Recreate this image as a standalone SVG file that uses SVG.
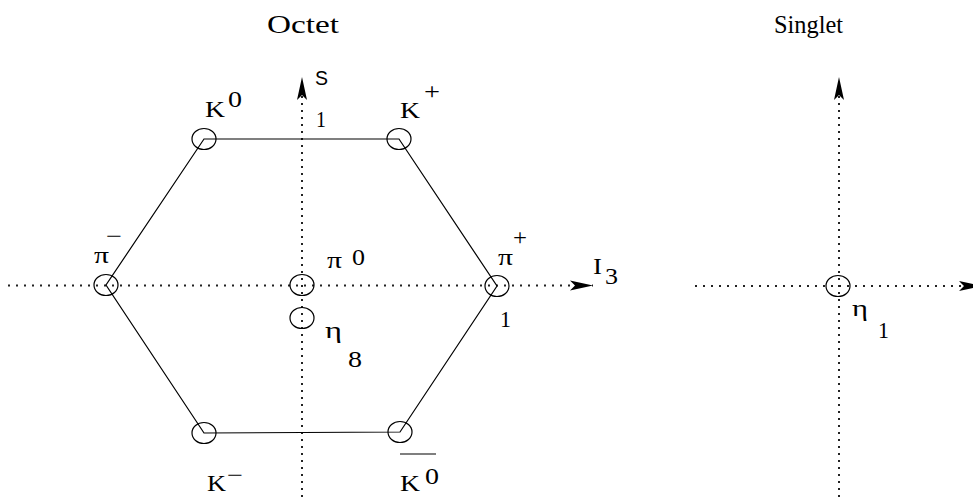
<svg xmlns="http://www.w3.org/2000/svg" width="973" height="497" viewBox="0 0 973 497">
<defs>
<style>
.ax{fill:none;stroke:#222;stroke-width:2;stroke-dasharray:2 6}
.axv{fill:none;stroke:#222;stroke-width:2;stroke-dasharray:2 5}
.edge{fill:none;stroke:#000;stroke-width:1.2}
.node{fill:none;stroke:#000;stroke-width:1.2}
.t{font-family:"Liberation Serif","Times New Roman",serif;font-size:24px;fill:#000}
.s{font-family:"Liberation Sans",Arial,sans-serif;font-size:21px;fill:#000}
.ttl{font-family:"Liberation Serif","Times New Roman",serif;font-size:25px;fill:#000}
</style>
<marker id="ah" markerUnits="userSpaceOnUse" markerWidth="30" markerHeight="14" refX="0" refY="0" orient="auto" overflow="visible" viewBox="-25 -7 30 14">
<path d="M0,0 L-23,-5 L-18,0 L-23,5 Z" fill="#000"/>
</marker>
</defs>
<rect width="973" height="497" fill="#fff"/>
<g id="titles">
<text class="ttl" x="267" y="33" textLength="72" lengthAdjust="spacingAndGlyphs">Octet</text>
<text class="ttl" x="774" y="33" textLength="69" lengthAdjust="spacingAndGlyphs">Singlet</text>
</g>
<g id="axes">
<line class="axv" x1="302" y1="497" x2="302" y2="77" marker-end="url(#ah)"/>
<line class="ax" x1="8" y1="285.5" x2="593" y2="285.5" marker-end="url(#ah)"/>
<line class="axv" x1="839" y1="497" x2="839" y2="77" marker-end="url(#ah)"/>
<line class="ax" x1="695" y1="286" x2="982" y2="286" marker-end="url(#ah)"/>
<text class="s" x="315" y="85" textLength="13" lengthAdjust="spacingAndGlyphs">S</text>
<text class="t" x="316" y="127" textLength="10" lengthAdjust="spacingAndGlyphs">1</text>
<text class="t" x="593" y="274" font-size="19" textLength="9" lengthAdjust="spacingAndGlyphs">I</text>
<text class="t" x="605" y="284" textLength="13" lengthAdjust="spacingAndGlyphs">3</text>
<text class="t" x="500" y="327" textLength="11" lengthAdjust="spacingAndGlyphs">1</text>
</g>
<g id="connectors">
<polygon class="edge" points="204,139 399,139 497,286 400,432 204,433 106,285"/>
</g>
<g id="K0">
<ellipse class="node" cx="204" cy="139" rx="12" ry="10.5"/>
<text class="t" x="205" y="117" textLength="20" lengthAdjust="spacingAndGlyphs">K</text>
<text class="t" x="228" y="107" textLength="14" lengthAdjust="spacingAndGlyphs">0</text>
</g>
<g id="Kplus">
<ellipse class="node" cx="399" cy="139" rx="12" ry="10.5"/>
<text class="t" x="400" y="118" textLength="20" lengthAdjust="spacingAndGlyphs">K</text>
<text class="t" x="424" y="99" textLength="16" lengthAdjust="spacingAndGlyphs">+</text>
</g>
<g id="piplus">
<ellipse class="node" cx="497" cy="286" rx="12" ry="10.5"/>
<text class="t" x="498" y="265" textLength="15" lengthAdjust="spacingAndGlyphs">π</text>
<text class="t" x="513" y="245" textLength="14" lengthAdjust="spacingAndGlyphs">+</text>
</g>
<g id="piminus">
<ellipse class="node" cx="106" cy="285" rx="12" ry="10.5"/>
<text class="t" x="94" y="263" textLength="15" lengthAdjust="spacingAndGlyphs">π</text>
<text class="t" x="106" y="244" textLength="16" lengthAdjust="spacingAndGlyphs">−</text>
</g>
<g id="pi0">
<ellipse class="node" cx="302" cy="285" rx="12" ry="10.5"/>
<text class="t" x="327" y="268" textLength="15" lengthAdjust="spacingAndGlyphs">π</text>
<text class="t" x="352" y="265" textLength="13" lengthAdjust="spacingAndGlyphs">0</text>
</g>
<g id="eta8">
<ellipse class="node" cx="302" cy="318" rx="12" ry="10.5"/>
<text class="t" x="325" y="338" textLength="17" lengthAdjust="spacingAndGlyphs">η</text>
<text class="t" x="348" y="367" textLength="14" lengthAdjust="spacingAndGlyphs">8</text>
</g>
<g id="Kminus">
<ellipse class="node" cx="204" cy="433" rx="12" ry="10.5"/>
<text class="t" x="207" y="491" textLength="19" lengthAdjust="spacingAndGlyphs">K</text>
<text class="t" x="227" y="483" textLength="16" lengthAdjust="spacingAndGlyphs">−</text>
</g>
<g id="K0bar">
<ellipse class="node" cx="400" cy="432" rx="12" ry="10.5"/>
<line class="edge" x1="400" y1="454" x2="436" y2="454"/>
<text class="t" x="400" y="491" textLength="20" lengthAdjust="spacingAndGlyphs">K</text>
<text class="t" x="425" y="484" textLength="14" lengthAdjust="spacingAndGlyphs">0</text>
</g>
<g id="eta1">
<ellipse class="node" cx="838" cy="286" rx="12" ry="10.5"/>
<text class="t" x="852" y="316" textLength="16" lengthAdjust="spacingAndGlyphs">η</text>
<text class="t" x="878" y="338" textLength="11" lengthAdjust="spacingAndGlyphs">1</text>
</g>
</svg>
